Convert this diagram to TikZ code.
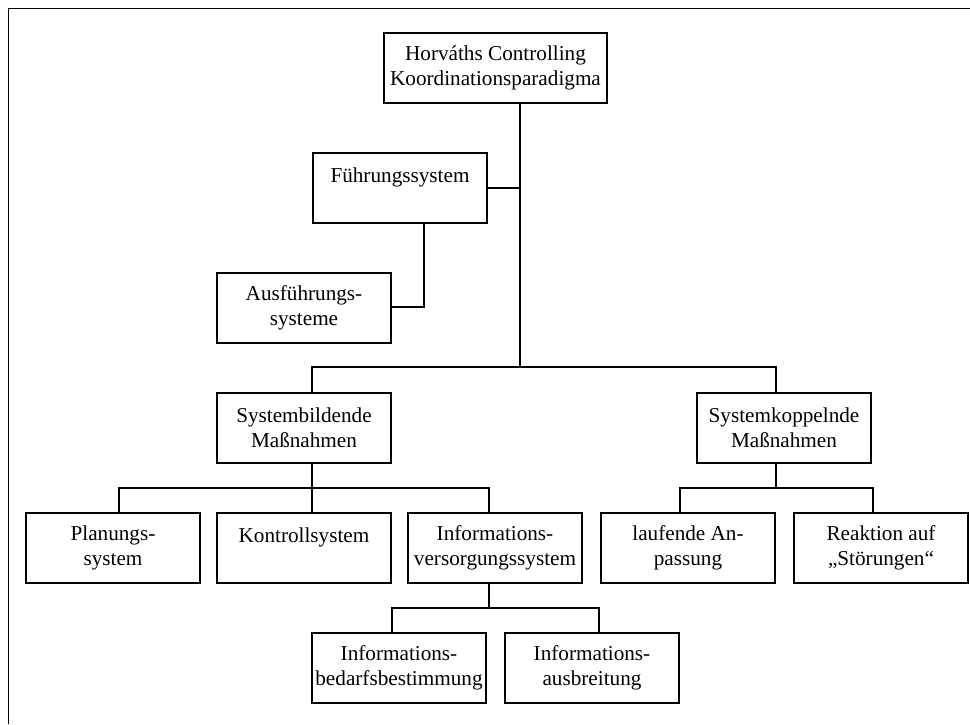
\documentclass[tikz,border=0pt]{standalone}
\usepackage{fontspec}
\setmainfont{Liberation Serif}
\usepackage{tikz}
\usetikzlibrary{positioning,calc}

\begin{document}
\begin{tikzpicture}[x=0.5pt, y=-0.5pt, node distance=24pt and 7.5pt,
 box/.style={draw,line width=0.8pt,align=center,minimum width=87.2pt,minimum height=35.2pt,inner sep=1pt,font=\fontsize{10.6}{12.5}\selectfont},
 conn/.style={draw,line width=0.8pt}]
\useasboundingbox (0,0) rectangle (970,724);
% frame
\draw[conn] (8.5,724) -- (8.5,8.5) -- (970,8.5);
% nodes
\node[box, minimum width=111.7pt] (tp) at (495.5,68) {Horváths Controlling\\Koordinationsparadigma};
\node[box] (fuehr) at (400,188) {Führungssystem\\\mbox{}};
\node[box] (ausf) at (304,308) {Ausführungs-\\systeme};
\node[box] (sbild) at (304,428) {Systembildende\\Maßnahmen};
\node[box] (skopp) at (784,428) {Systemkoppelnde\\Maßnahmen};
\node[box] (plan) at (113,548) {Planungs-\\system};
\node[box, right=of plan] (kontr) {Kontrollsystem\\\mbox{}};
\node[box, right=of kontr] (info) {Informations-\\versorgungssystem};
\node[box] (lauf) at (688,548) {laufende An-\\passung};
\node[box, right=8.5pt of lauf] (reakt) {Reaktion auf\\„Störungen“};
\node[box] (ibed) at (399,668) {Informations-\\bedarfsbestimmung};
\node[box, right=8.5pt of ibed] (iaus) {Informations-\\ausbreitung};
% bus points
\coordinate (sp) at (520,367);
\coordinate (fa) at (424,307);
\coordinate (busL) at (312,367);
\coordinate (busR) at (776,367);
\coordinate (subL) at (119,488);
\coordinate (subR) at (489,488);
\coordinate (kopL) at (680,488);
\coordinate (kopR) at (873,488);
\coordinate (ivL) at (392,608);
\coordinate (ivR) at (599,608);
% connectors
\draw[conn] (tp.south -| sp) -- (sp);
\draw[conn] (fuehr.east) -- (fuehr.east -| sp);
\draw[conn] (fuehr.south -| fa) -- (fa) -- (ausf.east |- fa);
\draw[conn] (sbild.north -| busL) -- (busL) -- (busR) -- (skopp.north -| busR);
\draw[conn] (sbild.south -| busL) -- (kontr.north -| busL);
\draw[conn] (plan.north -| subL) -- (subL) -- (subR) -- (info.north -| subR);
\draw[conn] (skopp.south -| busR) -- (busR |- kopL);
\draw[conn] (lauf.north -| kopL) -- (kopL) -- (kopR) -- (reakt.north -| kopR);
\draw[conn] (info.south -| subR) -- (subR |- ivL);
\draw[conn] (ibed.north -| ivL) -- (ivL) -- (ivR) -- (iaus.north -| ivR);
\end{tikzpicture}
\end{document}
